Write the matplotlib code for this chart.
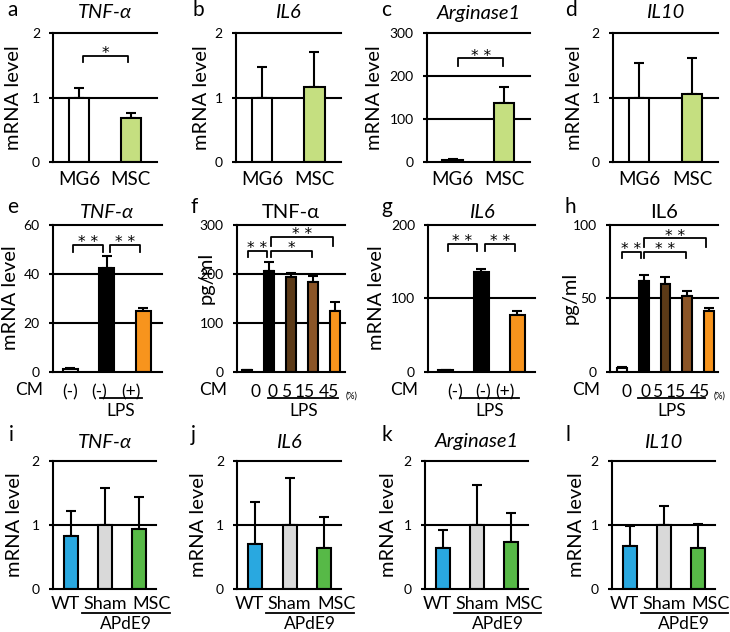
import matplotlib
matplotlib.use("Agg")
import matplotlib.pyplot as plt
import matplotlib.transforms as mtransforms
import numpy as np

plt.rcParams['font.family'] = ['Lato', 'DejaVu Sans']

# ---------------- data ----------------
mg_labels = ['MG6', 'MSC']
a_vals = [1.0, 0.68]; a_sd = [0.15, 0.09]
b_vals = [1.0, 1.17]; b_sd = [0.48, 0.54]
c_vals = [5, 137];    c_sd = [2, 37]
d_vals = [1.0, 1.06]; d_sd = [0.54, 0.56]

cm_labels = ['(-)', '(-)', '(+)']
e_vals = [1.1, 42.3, 24.6];  e_sd = [0.3, 4.8, 1.5]
g_vals = [2.3, 135.5, 77.5]; g_sd = [0.5, 3.6, 5.5]

pct_labels = ['0', '0', '5', '15', '45']
f_vals = [3, 205, 194, 182, 124];     f_sd = [1, 18, 8, 13, 19]
h_vals = [2.5, 61.7, 59.3, 51.5, 41.4]; h_sd = [0.6, 4.0, 5.2, 3.2, 1.8]

ap_labels = ['WT', 'Sham', 'MSC']
i_vals = [0.83, 1.0, 0.94]; i_sd = [0.39, 0.58, 0.50]
j_vals = [0.70, 1.0, 0.65]; j_sd = [0.65, 0.73, 0.48]
k_vals = [0.64, 1.0, 0.74]; k_sd = [0.29, 0.62, 0.44]
l_vals = [0.67, 1.0, 0.65]; l_sd = [0.32, 0.29, 0.36]

# ---------------- styles ----------------
W, H = 730, 632
fig = plt.figure(figsize=(W / 100, H / 100), dpi=100)

LW = 1.5
FS_TICK = 13.5
FS_TICK2 = 12.5
FS_TICK3 = 13
FS_YT = 10
FS_YL = 14.5
FS_TITLE = 14.5
FS_LET = 15
col_mg = ['white', '#c5df80']
col_cm = ['white', 'black', '#f7941d']
col_pct = ['white', 'black', '#5c3a17', '#8b5527', '#f7941d']
col_ap = ['#29a8e0', '#d9d9d9', '#57b947']


def ax_at(x0, x1, y0, y1):
    return fig.add_axes([x0 / W, 1 - y1 / H, (x1 - x0) / W, (y1 - y0) / H])


def ftext(x, y, s, **kw):
    fig.text(x / W, 1 - y / H, s, **kw)


def base(ax, vals, sd, colors, xlim, ylim, yticks, width, fs_x):
    x = np.arange(len(vals))
    ax.bar(x, vals, width=width, color=colors, edgecolor='black', linewidth=LW, zorder=2)
    ax.errorbar(x, vals, yerr=[np.zeros(len(sd)), sd], fmt='none', ecolor='black',
                elinewidth=LW, capsize=3.5, capthick=LW, zorder=1)
    ax.set_xlim(*xlim)
    ax.set_ylim(*ylim)
    ax.set_yticks(yticks)
    ax.set_yticklabels([str(t) for t in yticks], fontsize=FS_YT)
    for t in yticks[1:]:
        ax.axhline(t, color='black', lw=LW, zorder=0.5, clip_on=False)
    for s in ['top', 'right']:
        ax.spines[s].set_visible(False)
    ax.spines['left'].set_linewidth(LW)
    ax.spines['bottom'].set_linewidth(LW)
    ax.tick_params(axis='y', length=3, width=LW, pad=6.5)
    ax.tick_params(axis='x', length=0, labelsize=fs_x)
    ax.set_facecolor('none')
    return x


def bracket(ax, x1, x2, y, leg, label):
    ax.plot([x1, x1, x2, x2], [leg, y, y, leg], color='black', lw=1.3, clip_on=False, zorder=3)
    ax.annotate(label, ((x1 + x2) / 2, y), xytext=(0, -1.8), textcoords='offset points',
                ha='center', va='baseline', fontsize=11, family='DejaVu Sans')


def ylab(ax, text, xpx, axx0, axw, yfrac=0.5):
    ax.set_ylabel(text, fontsize=FS_YL, va='center')
    ax.yaxis.set_label_coords((xpx - axx0) / axw, yfrac)


def underline(ax, x1, x2, ypx, axy1, axh, label, textpx, fs):
    tr = mtransforms.blended_transform_factory(ax.transData, ax.transAxes)
    yf = (axy1 - ypx) / axh
    ax.plot([x1, x2], [yf, yf], transform=tr, color='black', lw=1.3, clip_on=False)
    ax.text((x1 + x2) / 2, (axy1 - textpx) / axh, label, transform=tr,
            ha='center', va='center', fontsize=fs)


# ---------------- row 1 ----------------
row1 = [
    ('a', 'TNF-α', a_vals, a_sd, [0, 1, 2], 53.3, 156.7, 13, 14),
    ('b', 'IL6', b_vals, b_sd, [0, 1, 2], 235.7, 340.7, 198, 201),
    ('c', 'Arginase1', c_vals, c_sd, [0, 100, 200, 300], 426.7, 530, 386, 374),
    ('d', 'IL10', d_vals, d_sd, [0, 1, 2], 612.7, 718.3, 571, 574),
]
y0, y1 = 33.3, 162.3
axes1 = {}
for letter, title, vals, sd, yt, x0, x1, lx, ylx in row1:
    ax = ax_at(x0, x1, y0, y1)
    x = base(ax, vals, sd, col_mg, (-0.5, 1.5), (0, yt[-1]), yt, 0.39, FS_TICK)
    ax.set_xticks(x)
    ax.set_xticklabels(mg_labels)
    ax.tick_params(axis='x', pad=6)
    ylab(ax, 'mRNA level', ylx, x0, x1 - x0)
    ftext((x0 + x1) / 2, 13, title, ha='center', va='center', fontsize=FS_TITLE, fontstyle='italic')
    ftext(lx, 10, letter, ha='center', va='center', fontsize=FS_LET)
    axes1[letter] = ax

bracket(axes1['a'], 0.07, 0.94, 1.65, 1.55, '*')
bracket(axes1['c'], 0.11, 0.98, 242, 225, '* *')

# ---------------- row 2 ----------------
y0, y1 = 224.5, 371.7
ah = y1 - y0
row2 = [
    ('e', 'TNF-α', True, e_vals, e_sd, col_cm, cm_labels, [0, 20, 40, 60], 52.7, 161.7,
     (-0.48, 2.5), 0.41, [0, 0.78, 1.66], 13, 11, 'mRNA level', 0.5, (0.81, 1.95)),
    ('f', 'TNF-α', False, f_vals, f_sd, col_pct, pct_labels, [0, 100, 200, 300], 236.7, 345,
     (-0.45, 4.45), 0.45, [0.42, 1.17, 1.79, 2.62, 3.74], 194, 206, 'pg/ml', 0.64, (0.97, 4.15)),
    ('g', 'IL6', True, g_vals, g_sd, col_cm, cm_labels, [0, 100, 200], 428.3, 535,
     (-0.48, 2.49), 0.41, [0.26, 1.05, 1.66], 387, 377, 'mRNA level', 0.5, (0.40, 2.05)),
    ('h', 'IL6', False, h_vals, h_sd, col_pct, pct_labels, [0, 50, 100], 610, 718.3,
     (-0.55, 4.43), 0.45, [0.22, 1.06, 1.61, 2.47, 3.59], 570, 570, 'pg/ml', 0.5, (0.74, 3.82)),
]
axes2 = {}
for (letter, title, ital, vals, sd, cols, labs, yt, x0, x1, xl, wd, lpos, lx, ylx,
     ytxt, yfr, lps) in row2:
    ax = ax_at(x0, x1, y0, y1)
    base(ax, vals, sd, cols, xl, (0, yt[-1]), yt, wd, FS_TICK2)
    ax.set_xticks(lpos)
    ax.set_xticklabels(labs)
    ax.tick_params(axis='x', pad=9)
    ylab(ax, ytxt, ylx, x0, x1 - x0, yfr)
    ftext((x0 + x1) / 2, 212, title, ha='center', va='center', fontsize=FS_TITLE,
          fontstyle='italic' if ital else 'normal')
    ftext(lx, 207, letter, ha='center', va='center', fontsize=FS_LET)
    ftext(x0 - 24, 390, 'CM', ha='center', va='center', fontsize=FS_TICK2)
    underline(ax, lps[0], lps[1], 398, y1, ah, 'LPS', 411, FS_TICK2)
    if not ital:
        ftext(min(x1 + 0.5, 714), 396, '(%)', ha='left', va='center', fontsize=6.5)
    axes2[letter] = ax

bracket(axes2['e'], 0.07, 0.90, 51.8, 48.8, '* *')
bracket(axes2['e'], 1.08, 1.90, 51.8, 48.8, '* *')
bracket(axes2['f'], 0.06, 0.92, 246.6, 233.6, '* *')
bracket(axes2['f'], 1.09, 2.95, 246.6, 233.6, '*')
bracket(axes2['f'], 1.09, 3.92, 274.7, 256.8, '* *')
bracket(axes2['g'], 0.06, 0.88, 174, 163.8, '* *')
bracket(axes2['g'], 1.10, 1.93, 174, 163.8, '* *')
bracket(axes2['h'], -0.01, 0.86, 81.4, 77, '* *')
bracket(axes2['h'], 1.03, 2.93, 81.4, 77, '* *')
bracket(axes2['h'], 1.03, 3.86, 90.5, 84.8, '* *')

# ---------------- row 3 ----------------
y0, y1 = 460.7, 589.3
ah = y1 - y0
row3 = [
    ('i', 'TNF-α', i_vals, i_sd, 52.7, 156.5, 11, 14),
    ('j', 'IL6', j_vals, j_sd, 237.3, 340.7, 193, 199),
    ('k', 'Arginase1', k_vals, k_sd, 425, 528.3, 387, 389),
    ('l', 'IL10', l_vals, l_sd, 611.7, 715, 568, 576),
]
for letter, title, vals, sd, x0, x1, lx, ylx in row3:
    ax = ax_at(x0, x1, y0, y1)
    base(ax, vals, sd, col_ap, (-0.53, 2.5), (0, 2), [0, 1, 2], 0.41, FS_TICK3)
    ax.set_xticks([-0.17, 1.0, 2.37])
    ax.set_xticklabels(ap_labels)
    ax.tick_params(axis='x', pad=5)
    ylab(ax, 'mRNA level', ylx, x0, x1 - x0)
    ftext((x0 + x1) / 2, 442, title, ha='center', va='center', fontsize=FS_TITLE, fontstyle='italic')
    ftext(lx, 435, letter, ha='center', va='center', fontsize=FS_LET)
    underline(ax, 0.32, 2.88, 613, y1, ah, 'APdE9', 624, 12.5)

fig.savefig('out.png', dpi=100)
